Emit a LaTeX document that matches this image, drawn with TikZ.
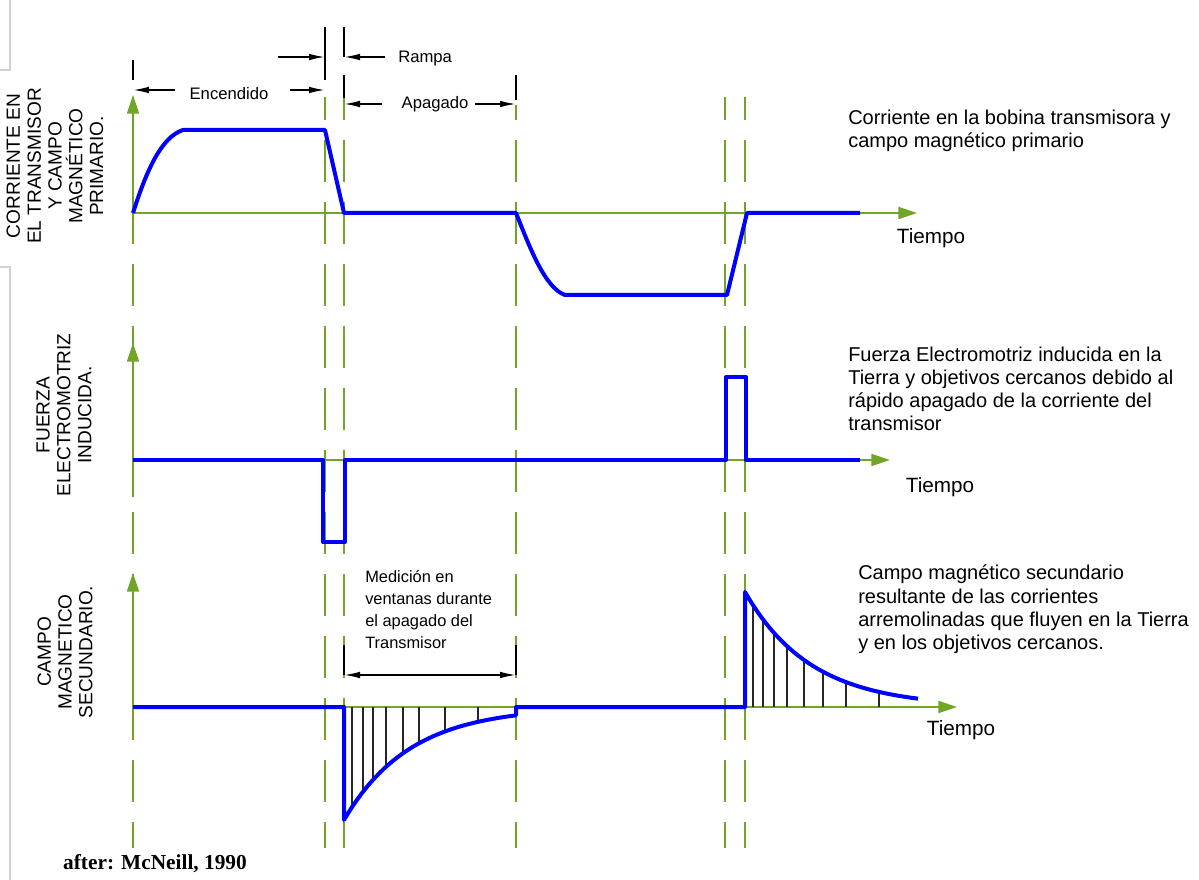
\documentclass[tikz,border=0pt]{standalone}
\usepackage{fontspec}
\setmainfont{Liberation Sans}
\newfontfamily\citefont{Liberation Serif}
\usetikzlibrary{arrows.meta}
\definecolor{axisgreen}{RGB}{112,165,40}
\definecolor{sigblue}{RGB}{0,0,255}
\tikzset{
  guide/.style={axisgreen, line width=1.9pt, dash pattern=on 31.5pt off 15pt, dash phase=14.25pt},
  axisline/.style={axisgreen, line width=1.5pt, -{Triangle[length=14pt,width=9pt]}},
  signal/.style={sigblue, line width=3pt, line join=round},
  dimline/.style={black, line width=1.3pt},
  dimarrow/.style={dimline, -{Latex[length=12pt,width=5pt]}},
  hatchline/.style={black!85, line width=1.3pt},
  smalltext/.style={font=\fontsize{12.5}{15}\selectfont, inner sep=0pt},
  notetext/.style={font=\fontsize{15}{17.3}\selectfont, align=left, inner sep=0pt, anchor=north west},
  timetext/.style={font=\fontsize{15.5}{18}\selectfont, inner sep=0pt},
  sidetext/.style={font=\fontsize{14.3}{15.6}\selectfont, rotate=90, align=center, inner sep=0pt},
  framegray/.style={black!18, line width=0.8pt}
}
\begin{document}
\begin{tikzpicture}[x=0.75pt,y=-0.75pt]
\useasboundingbox (0,0) rectangle (1199,880);

% faint frame at the left edge
\draw[framegray] (10,0) -- (10,70) -- (0,70);
\draw[framegray] (0,267) -- (10,267) -- (10,880);

% vertical time markers
\draw[guide] (133,97) -- (133,848);
\draw[guide] (325,97) -- (325,848);
\draw[guide] (344,97) -- (344,848);
\draw[guide, dash phase=20.25pt] (516,105) -- (516,848);
\draw[guide] (725,97) -- (725,848);
\draw[guide] (745,97) -- (745,848);

% axes
\draw[axisline] (133,242) -- (133,95);
\draw[axisline] (133,213) -- (917,213);
\draw[axisline] (133,497) -- (133,343);
\draw[axisline] (133,460) -- (890,460);
\draw[axisline] (133,733) -- (133,573);
\draw[axisline] (133,707) -- (957,707);

% measurement windows (hatching)
\foreach \h in {352,363,373,386,403,419,445,478}
  \draw[hatchline] (\h,707) -- (\h,{707+113*exp(-(\h-344)/66)});
\foreach \h in {753,763,774,787,804,823,846,879}
  \draw[hatchline] (\h,707) -- (\h,{707-115*exp(-(\h-745)/66)});

% primary current
\draw[signal] (133,213) .. controls (146,172) and (161,137) .. (183,130)
  -- (325,130) -- (344,213) -- (516,213)
  .. controls (530,248) and (545,288) .. (565,295)
  -- (727,295) -- (747,213) -- (860,213);

% induced EMF
\draw[signal] (133,460) -- (323,460) -- (323,542) -- (345,542) -- (345,460)
  -- (726,460) -- (726,377) -- (746,377) -- (746,460) -- (860,460);

% secondary field
\draw[signal] (133,707) -- (344,707) -- (344,820)
  -- plot[domain=344:516, samples=40] (\x,{707+113*exp(-(\x-344)/66)})
  -- (516,707) -- (745,707) -- (745,592)
  -- plot[domain=745:918, samples=40] (\x,{707-115*exp(-(\x-745)/66)});

% timing annotations at the top
\draw[dimline] (133,60) -- (133,80);
\draw[dimline] (325,27) -- (325,80);
\draw[dimline] (344,27) -- (344,57);
\draw[dimline] (344,75) -- (344,98);
\draw[dimline] (516,75) -- (516,100);
\coordinate (encL) at (133,90);
\coordinate (encR) at (325,90);
\coordinate (rampL) at (325,57);
\coordinate (rampR) at (344,57);
\coordinate (apaL) at (344,104);
\coordinate (apaR) at (516,104);
\node[smalltext] (encendido) at (229,94) {Encendido};
\draw[dimarrow] (175,90) -- (encL);
\draw[dimarrow] (290,90) -- (encR);
\node[smalltext, anchor=west] (rampa) at (398,59) {Rampa};
\draw[dimarrow] (278,57) -- (rampL);
\draw[dimarrow] (385,57) -- (rampR);
\node[smalltext] (apagado) at (435,104) {Apagado};
\draw[dimarrow] (382,104) -- (apaL);
\draw[dimarrow] (475,104) -- (apaR);

% measurement window annotation
\draw[dimline] (344,645) -- (344,675);
\draw[dimline] (516,645) -- (516,675);
\coordinate (medL) at (344,675);
\coordinate (medR) at (516,675);
\draw[dimline, {Latex[length=12pt,width=5pt]}-{Latex[length=12pt,width=5pt]}] (medL) -- (medR);
\node[smalltext, align=left, anchor=north west, font=\fontsize{12.3}{16.5}\selectfont] (medicion) at (365,570)
  {Medición en\\ventanas durante\\el apagado del\\Transmisor};

% axis titles
\node[sidetext] (ytop) at (55,166) {CORRIENTE EN\\EL TRANSMISOR\\Y CAMPO\\MAGNÉTICO\\PRIMARIO.};
\node[sidetext] (ymid) at (64,415) {FUERZA\\ELECTROMOTRIZ\\INDUCIDA.};
\node[sidetext] (ybot) at (65,652) {CAMPO\\MAGNETICO\\SECUNDARIO.};

\node[timetext] (t1) at (931,238) {Tiempo};
\node[timetext] (t2) at (940,487) {Tiempo};
\node[timetext] (t3) at (961,730) {Tiempo};

% descriptions
\node[notetext] (n1) at (848,110) {Corriente en la bobina transmisora y\\campo magnético primario};
\node[notetext] (n2) at (848,347) {Fuerza Electromotriz inducida en la\\Tierra y objetivos cercanos debido al\\rápido apagado de la corriente del\\transmisor};
\node[notetext] (n3) at (858,565) {Campo magnético secundario\\resultante de las corrientes\\arremolinadas que fluyen en la Tierra\\y en los objetivos cercanos.};

\node[inner sep=0pt, font=\citefont\bfseries\fontsize{16}{19}\selectfont] (cite) at (155,864) {after: McNeill, 1990};
\end{tikzpicture}
\end{document}
